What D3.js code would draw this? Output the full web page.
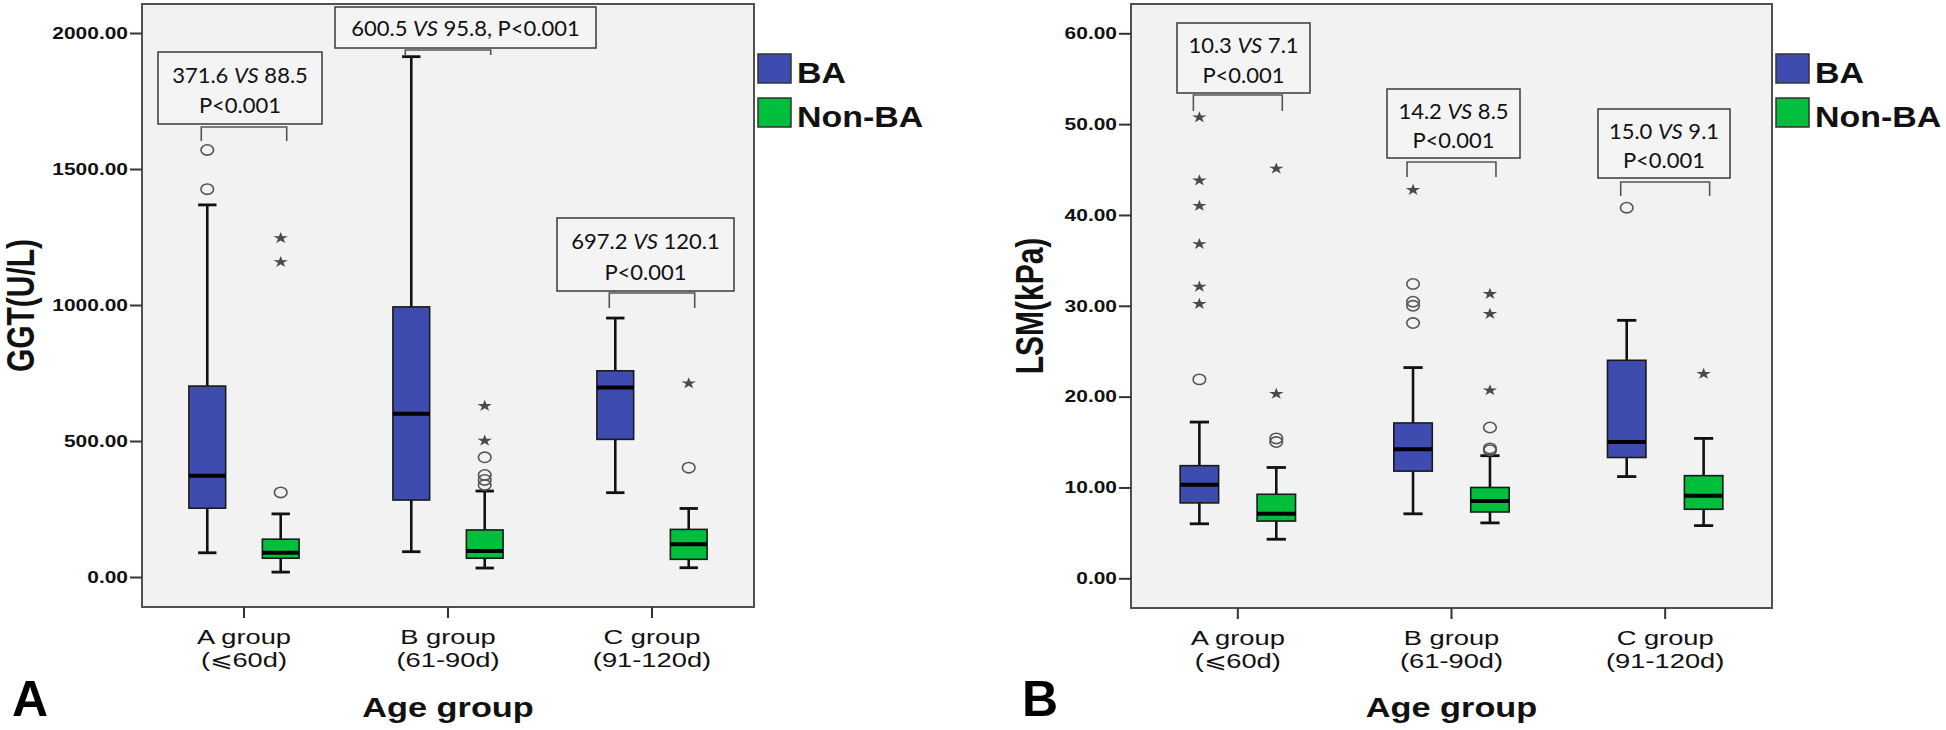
<!DOCTYPE html>
<html>
<head>
<meta charset="utf-8">
<script src="https://cdn.jsdelivr.net/npm/d3@7"></script>
<style>
  body { margin: 0; background: #fff; }
  svg { display: block; }
</style>
</head>
<body>
<svg id="chart" width="1946" height="730"></svg>
<script>
// categories
const groups = ["A group", "B group", "C group"];
const groupDays = ["(\u2A7D60d)", "(61-90d)", "(91-120d)"];
const series = ["BA", "Non-BA"];
const seriesColors = ["#3e4caf", "#00bf3c"];

// GGT (U/L): [lower whisker, Q1, median, Q3, upper whisker]
const ggtBA = [[89, 253, 372, 702, 1368], [93, 283, 600, 993, 1913], [310, 506, 697, 758, 952]];
const ggtNonBA = [[18, 69, 89, 139, 232], [33, 69, 96, 173, 316], [34, 65, 120, 175, 252]];
const ggtBAOutliers = [[1570, 1426], [], []];
const ggtBAExtremes = [[], [], []];
const ggtNonBAOutliers = [[311], [440, 375, 357, 338], [402]];
const ggtNonBAExtremes = [[1246, 1158], [629, 501], [712]];
const ggtTicks = [0, 500, 1000, 1500, 2000];
const ggtNotes = [["371.6", "88.5"], ["600.5", "95.8"], ["697.2", "120.1"]];

// LSM (kPa)
const lsmBA = [[6.0, 8.3, 10.3, 12.4, 17.2], [7.1, 11.8, 14.2, 17.1, 23.2], [11.2, 13.3, 15.0, 24.0, 28.4]];
const lsmNonBA = [[4.3, 6.3, 7.1, 9.25, 12.2], [6.1, 7.3, 8.5, 10.0, 13.5], [5.8, 7.6, 9.1, 11.3, 15.4]];
const lsmBAOutliers = [[21.9], [32.4, 30.45, 30.0, 28.1], [40.8]];
const lsmBAExtremes = [[50.75, 43.8, 41.0, 36.8, 32.1, 30.2], [42.75], []];
const lsmNonBAOutliers = [[15.4, 15.0], [16.6, 14.3, 14.1], []];
const lsmNonBAExtremes = [[45.1, 20.3], [31.3, 29.1, 20.7], [22.5]];
const lsmTicks = [0, 10, 20, 30, 40, 50, 60];
const lsmNotes = [["10.3", "7.1"], ["14.2", "8.5"], ["15.0", "9.1"]];

const pText = "P<0.001";

const svg = d3.select("#chart");

// text helper: the original figure is stretched sideways
function stext(g, x, y, k, str, rot) {
    return g.append("text")
        .attr("transform", "translate(" + x + "," + y + ") scale(" + k + ",1)" + (rot ? " rotate(-90)" : ""))
        .text(str);
}

function drawPanel(p) {
    const g = svg.append("g");
    const [fl, ft, fr, fb] = p.frame;

    const y = d3.scaleLinear().domain([0, p.ticks[p.ticks.length - 1]]).range([p.zeroY, p.topY]);
    const x = d3.scaleBand().domain(groups).range([fl, fr]);
    const bw = x.bandwidth();
    const xs = d3.scaleBand().domain(series).range([-0.36 * bw, 0.36 * bw]);
    const boxW = 0.18 * bw;
    const cx = (gi, si) => x(groups[gi]) + bw / 2 + xs(series[si]) + xs.bandwidth() / 2;

    g.append("rect")
        .attr("x", fl).attr("y", ft).attr("width", fr - fl).attr("height", fb - ft)
        .attr("fill", "#f2f2f2").attr("stroke", "#505050").attr("stroke-width", 2);

    // y axis
    const ya = g.append("g").attr("transform", "translate(" + fl + ",0)")
        .call(d3.axisLeft(y).tickValues(p.ticks).tickFormat(d3.format(".2f")).tickSize(12));
    ya.select(".domain").remove();
    ya.selectAll(".tick line").attr("stroke", "#333").attr("stroke-width", 2);
    ya.selectAll(".tick text")
        .attr("x", -14 / 1.27).attr("transform", "scale(1.27,1)")
        .attr("font-family", "Liberation Sans, Arial, sans-serif")
        .attr("font-weight", "bold").attr("font-size", 16.5).attr("fill", "#111");

    // x axis
    const xa = g.append("g").attr("transform", "translate(0," + fb + ")")
        .call(d3.axisBottom(x).tickSize(11));
    xa.select(".domain").remove();
    xa.selectAll(".tick text").remove();
    xa.selectAll(".tick line").attr("stroke", "#333").attr("stroke-width", 2);

    groups.forEach((name, gi) => {
        const c = x(name) + bw / 2;
        const lab = g.append("g").attr("font-family", "Liberation Sans, Arial, sans-serif")
            .attr("font-size", 21).attr("text-anchor", "middle").attr("fill", "#111");
        stext(lab, c, fb + 37, 1.3, name);
        stext(lab, c, fb + 60, 1.3, groupDays[gi]);
    });

    // boxes
    const sets = [
        {stats: p.ba, out: p.baOut, ext: p.baExt},
        {stats: p.non, out: p.nonOut, ext: p.nonExt}
    ];
    sets.forEach((s, si) => {
        s.stats.forEach((d, gi) => {
            const c = cx(gi, si);
            const bg = g.append("g");
            bg.append("line").attr("x1", c).attr("x2", c).attr("y1", y(d[0])).attr("y2", y(d[4]))
                .attr("stroke", "#111").attr("stroke-width", 2.6);
            [d[0], d[4]].forEach(v => {
                bg.append("line").attr("x1", c - boxW / 4).attr("x2", c + boxW / 4)
                    .attr("y1", y(v)).attr("y2", y(v)).attr("stroke", "#111").attr("stroke-width", 2.8);
            });
            bg.append("rect").attr("x", c - boxW / 2).attr("width", boxW)
                .attr("y", y(d[3])).attr("height", y(d[1]) - y(d[3]))
                .attr("fill", seriesColors[si]).attr("stroke", "#1a1a1a").attr("stroke-width", 1.6);
            bg.append("line").attr("x1", c - boxW / 2).attr("x2", c + boxW / 2)
                .attr("y1", y(d[2])).attr("y2", y(d[2])).attr("stroke", "#000").attr("stroke-width", 4);
            s.out[gi].forEach(v => {
                bg.append("ellipse").attr("cx", c).attr("cy", y(v)).attr("rx", 6.3).attr("ry", 5.2)
                    .attr("fill", "none").attr("stroke", "#555").attr("stroke-width", 1.6);
            });
            s.ext[gi].forEach(v => {
                bg.append("path").attr("d", d3.symbol(d3.symbolStar, 42)())
                    .attr("transform", "translate(" + c + "," + y(v) + ") scale(1.25,1)")
                    .attr("fill", "#4a4a4a");
            });
        });
    });

    // comparison notes
    p.notes.forEach((n, gi) => {
        const [x0, y0, x1, y1, by, drop, oneLine] = p.noteBoxes[gi];
        const ng = g.append("g");
        ng.append("rect").attr("x", x0).attr("y", y0).attr("width", x1 - x0).attr("height", y1 - y0)
            .attr("fill", "#f4f4f4").attr("stroke", "#3a3a3a").attr("stroke-width", 1.5);
        const bl = cx(gi, 0) - 6, br = cx(gi, 1) + 6;
        ng.append("path")
            .attr("d", "M" + bl + "," + (by + drop) + "V" + by + "H" + br + "V" + (by + drop))
            .attr("fill", "none").attr("stroke", "#555").attr("stroke-width", 1.6);
        const tx = (x0 + x1) / 2, h = y1 - y0;
        const t = ng.append("text").attr("x", tx).attr("text-anchor", "middle")
            .attr("font-family", "Lato, sans-serif").attr("font-size", 22).attr("fill", "#111")
            .attr("y", oneLine ? y0 + h / 2 + 8 : y0 + 0.32 * h + 8);
        t.append("tspan").text(n[0] + " ");
        t.append("tspan").attr("font-style", "italic").text("VS");
        t.append("tspan").text(" " + n[1] + (oneLine ? ", " + pText : ""));
        if (!oneLine) {
            ng.append("text").attr("x", tx).attr("y", y0 + 0.74 * h + 8).attr("text-anchor", "middle")
                .attr("font-family", "Lato, sans-serif").attr("font-size", 22).attr("fill", "#111")
                .text(pText);
        }
    });

    // legend
    series.forEach((s, si) => {
        const ly = 54 + si * 44;
        g.append("rect").attr("x", fr + 4).attr("y", ly).attr("width", 33).attr("height", 29)
            .attr("fill", seriesColors[si]).attr("stroke", "#333").attr("stroke-width", 1.5);
        const lt = g.append("g").attr("font-family", "Liberation Sans, Arial, sans-serif")
            .attr("font-weight", "bold").attr("font-size", 29.5).attr("fill", "#111");
        stext(lt, fr + 43, ly + 29, 1.15, s);
    });

    // axis titles
    const tt = g.append("g").attr("font-family", "Liberation Sans, Arial, sans-serif")
        .attr("font-weight", "bold").attr("fill", "#111").attr("text-anchor", "middle");
    stext(tt.append("g").attr("font-size", 27), (fl + fr) / 2, 717, 1.27, "Age group");
    stext(tt.append("g").attr("font-size", 30), p.yTitleX, (ft + fb) / 2, 1.28, p.yTitle, true);

    g.append("text").attr("x", p.letterX).attr("y", 716)
        .attr("font-family", "Liberation Sans, Arial, sans-serif").attr("font-weight", "bold")
        .attr("font-size", 50).attr("fill", "#000").text(p.letter);
}

drawPanel({
    letter: "A", letterX: 12, yTitle: "GGT(U/L)", yTitleX: 34,
    frame: [142, 4, 754, 607], zeroY: 577, topY: 33, ticks: ggtTicks,
    ba: ggtBA, non: ggtNonBA,
    baOut: ggtBAOutliers, baExt: ggtBAExtremes,
    nonOut: ggtNonBAOutliers, nonExt: ggtNonBAExtremes,
    notes: ggtNotes,
    noteBoxes: [[158, 52, 322, 124, 127, 14, false], [335, 7, 596, 48, 50, 5, true], [557, 218, 734, 291, 293, 15, false]]
});

drawPanel({
    letter: "B", letterX: 1022, yTitle: "LSM(kPa)", yTitleX: 1043,
    frame: [1131, 4, 1772, 608], zeroY: 578.3, topY: 33.3, ticks: lsmTicks,
    ba: lsmBA, non: lsmNonBA,
    baOut: lsmBAOutliers, baExt: lsmBAExtremes,
    nonOut: lsmNonBAOutliers, nonExt: lsmNonBAExtremes,
    notes: lsmNotes,
    noteBoxes: [[1177, 23, 1310, 93, 95, 16, false], [1387, 89, 1520, 158, 162, 15, false], [1598, 109, 1730, 178, 182, 14, false]]
});
</script>
</body>
</html>
